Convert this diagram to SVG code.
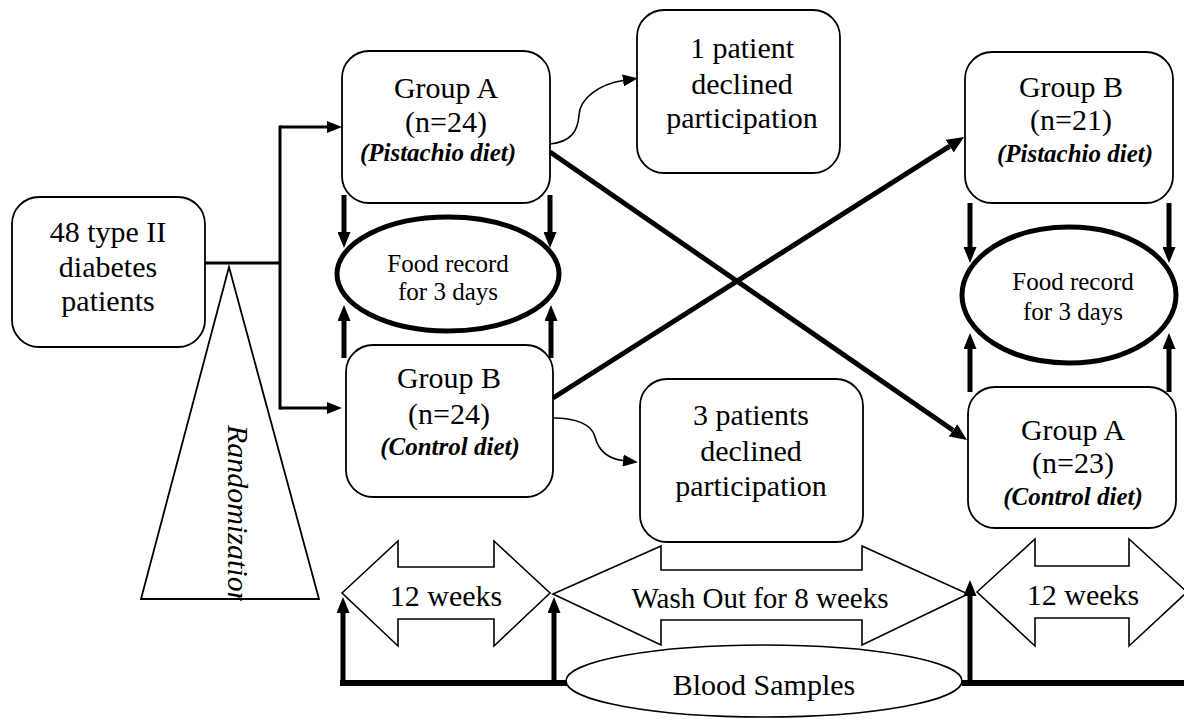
<svg xmlns="http://www.w3.org/2000/svg" width="1184" height="719" viewBox="0 0 1184 719">
<style>
text{font-family:"Liberation Serif","Times New Roman",serif;fill:#000;text-anchor:middle}
.m{font-size:30px}
.d{font-size:25px;font-weight:bold;font-style:italic}
.f{font-size:25px}
.box{fill:#fff;stroke:#000;stroke-width:1.8}
.blk{fill:#fff;stroke:#000;stroke-width:1.6}
.thin{fill:none;stroke:#000;stroke-width:1.6}
.rnd{fill:none;stroke:#000;stroke-width:3}
.thk{fill:none;stroke:#000;stroke-width:5}
.ell{fill:#fff;stroke:#000;stroke-width:5}
</style>
<defs>
<marker id="ha" viewBox="0 0 15 12" refX="0" refY="6" markerWidth="15" markerHeight="12" markerUnits="userSpaceOnUse" orient="auto"><path d="M0,0 L15,6 L0,12 z" fill="#000"/></marker>
<marker id="hb" viewBox="0 0 16 13" refX="0" refY="6.5" markerWidth="16" markerHeight="13" markerUnits="userSpaceOnUse" orient="auto"><path d="M0,0 L16,6.5 L0,13 z" fill="#000"/></marker>
<marker id="hc" viewBox="0 0 17 15" refX="0" refY="7.5" markerWidth="17" markerHeight="15" markerUnits="userSpaceOnUse" orient="auto"><path d="M0,0 L17,7.5 L0,15 z" fill="#000"/></marker>
<clipPath id="rc" clipPathUnits="userSpaceOnUse"><rect x="200" y="400" width="80" height="201"/></clipPath>
</defs>

<g id="randomization">
<polygon points="229,267 319,599 141,599" fill="#fff" stroke="#000" stroke-width="1.8"/>
<g clip-path="url(#rc)">
<text class="m" style="font-style:italic;text-anchor:start" transform="translate(228,425) rotate(90)">Randomization</text>
</g>
</g>

<g id="patients48">
<rect class="box" x="12" y="197" width="193" height="150" rx="27"/>
<text class="m" x="108" y="242">48 type II</text>
<text class="m" x="108" y="277">diabetes</text>
<text class="m" x="108" y="311">patients</text>
</g>

<g id="groupA1">
<rect class="box" x="342" y="51" width="208" height="152" rx="27"/>
<text class="m" x="446" y="98">Group A</text>
<text class="m" x="446" y="132">(n=24)</text>
<text class="d" x="438" y="161">(Pistachio diet)</text>
</g>

<g id="groupB1">
<rect class="box" x="346" y="345" width="207" height="152" rx="27"/>
<text class="m" x="449" y="388">Group B</text>
<text class="m" x="449" y="424">(n=24)</text>
<text class="d" x="450" y="455">(Control diet)</text>
</g>

<g id="declined1">
<rect class="box" x="637" y="10" width="203" height="163" rx="27"/>
<text class="m" x="742" y="58">1 patient</text>
<text class="m" x="742" y="94">declined</text>
<text class="m" x="742" y="128">participation</text>
</g>

<g id="declined3">
<rect class="box" x="640" y="379" width="223" height="163" rx="27"/>
<text class="m" x="751" y="425">3 patients</text>
<text class="m" x="751" y="461">declined</text>
<text class="m" x="751" y="496">participation</text>
</g>

<g id="groupB2">
<rect class="box" x="965" y="52" width="208" height="151" rx="27"/>
<text class="m" x="1071" y="97">Group B</text>
<text class="m" x="1071" y="130">(n=21)</text>
<text class="d" x="1075" y="162">(Pistachio diet)</text>
</g>

<g id="groupA2">
<rect class="box" x="968" y="387" width="208" height="141" rx="27"/>
<text class="m" x="1073" y="440">Group A</text>
<text class="m" x="1073" y="473">(n=23)</text>
<text class="d" x="1073" y="505">(Control diet)</text>
</g>

<g id="food1">
<ellipse class="ell" cx="448" cy="274" rx="111" ry="57"/>
<text class="f" x="448" y="272">Food record</text>
<text class="f" x="448" y="300">for 3 days</text>
</g>

<g id="food2">
<ellipse class="ell" cx="1069" cy="295" rx="107" ry="68"/>
<text class="f" x="1073" y="290">Food record</text>
<text class="f" x="1073" y="320">for 3 days</text>
</g>

<g id="weeks12a">
<polygon class="blk" points="342,593 398,541 398,567 494,567 494,541 550,593 494,646 494,619 398,619 398,646"/>
<text class="m" x="446" y="606">12 weeks</text>
</g>

<g id="washout">
<polygon class="blk" points="553,594 661,546 661,570 862,570 862,546 968,594 862,645 862,620 661,620 661,645"/>
<text class="m" style="font-size:29px" x="760" y="608">Wash Out for 8 weeks</text>
</g>

<g id="weeks12b">
<polygon class="blk" points="977,592 1035,539 1035,566 1129,566 1129,539 1187,592 1129,646 1129,618 1035,618 1035,646"/>
<text class="m" x="1083" y="605">12 weeks</text>
</g>

<g id="connectors">
<path class="rnd" d="M205,263 H281"/>
<path class="rnd" d="M280,125.5 V409.5"/>
<path class="rnd" d="M280,127 H327" marker-end="url(#ha)"/>
<path class="rnd" d="M280,408 H327" marker-end="url(#ha)"/>

<path class="thin" d="M550,144 C570,142 578,132 579,115 C580,98 600,84 623,80.5" marker-end="url(#ha)"/>
<path class="thin" d="M554,418 C575,418 592,424 595,437 C599,452 610,459 623,460.5" marker-end="url(#ha)"/>

<path class="thk" d="M550,152 L953,430.3" marker-end="url(#hc)"/>
<path class="thk" d="M553,398 L949.7,146.1" marker-end="url(#hc)"/>

<path class="thk" d="M344,195 V232" marker-end="url(#hb)"/>
<path class="thk" d="M550,195 V232" marker-end="url(#hb)"/>
<path class="thk" d="M344,358 V321" marker-end="url(#hb)"/>
<path class="thk" d="M551,358 V321" marker-end="url(#hb)"/>
<path class="thk" d="M970,203 V247" marker-end="url(#hb)"/>
<path class="thk" d="M1169,203 V247" marker-end="url(#hb)"/>
<path class="thk" d="M970,392 V349" marker-end="url(#hb)"/>
<path class="thk" d="M1169,392 V349" marker-end="url(#hb)"/>

<path d="M340,683 H567 M962,683 H1184" fill="none" stroke="#000" stroke-width="6"/>
<path class="thk" d="M343,686 V613" marker-end="url(#hb)"/>
<path class="thk" d="M554,686 V613" marker-end="url(#hb)"/>
<path class="thk" d="M970,686 V596" marker-end="url(#hb)"/>
</g>

<g id="blood">
<ellipse cx="764" cy="681" rx="198" ry="36" fill="#fff" stroke="#000" stroke-width="1.6"/>
<text class="m" x="764" y="695">Blood Samples</text>
</g>
</svg>
